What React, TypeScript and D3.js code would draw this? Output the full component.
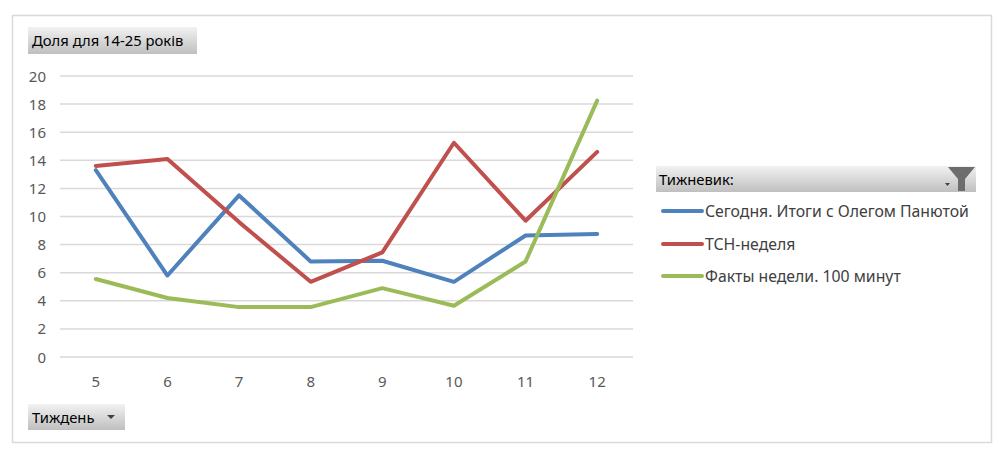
import React, { useEffect, useRef } from "react";
import * as d3 from "d3";

const weeks: string[] = ["5", "6", "7", "8", "9", "10", "11", "12"];
const seriesNames: string[] = [
  "Сегодня. Итоги с Олегом Панютой",
  "ТСН-неделя",
  "Факты недели. 100 минут",
];
const segodnya: number[] = [13.3, 5.8, 11.5, 6.8, 6.85, 5.35, 8.65, 8.75];
const tsn: number[] = [13.6, 14.1, 9.6, 5.35, 7.45, 15.25, 9.7, 14.6];
const fakty: number[] = [5.55, 4.2, 3.55, 3.55, 4.9, 3.65, 6.8, 18.25];
const colors: string[] = ["#4F81BD", "#C0504D", "#9BBB59"];
const yTicks: number[] = [0, 2, 4, 6, 8, 10, 12, 14, 16, 18, 20];

const FONT = "'Noto Sans', 'DejaVu Sans', sans-serif";

const App: React.FC = () => {
  const svgRef = useRef<SVGSVGElement | null>(null);

  useEffect(() => {
    const svg = d3.select(svgRef.current);
    svg.selectAll("*").remove();

    const width = 1003;
    const height = 456;
    const plot = { left: 60, right: 633, top: 76, bottom: 357 };

    const defs = svg.append("defs");
    const grad = defs
      .append("linearGradient")
      .attr("id", "btn")
      .attr("x1", 0)
      .attr("y1", 0)
      .attr("x2", 0)
      .attr("y2", 1);
    grad.append("stop").attr("offset", "0%").attr("stop-color", "#f2f2f2");
    grad.append("stop").attr("offset", "100%").attr("stop-color", "#bfbfbf");

    // outer frame
    svg
      .append("rect")
      .attr("x", 12.5)
      .attr("y", 15.5)
      .attr("width", 979)
      .attr("height", 427)
      .attr("fill", "#fff")
      .attr("stroke", "#d9d9d9")
      .attr("stroke-width", 1.5);

    const x = d3
      .scaleBand()
      .domain(weeks)
      .range([plot.left, plot.right]);
    const y = d3
      .scaleLinear()
      .domain([0, 20])
      .range([plot.bottom, plot.top]);

    // gridlines
    svg
      .append("g")
      .selectAll("line")
      .data(yTicks)
      .join("line")
      .attr("x1", plot.left)
      .attr("x2", plot.right)
      .attr("y1", (d) => y(d))
      .attr("y2", (d) => y(d))
      .attr("stroke", "#d9d9d9")
      .attr("stroke-width", 1.5);

    // y labels
    svg
      .append("g")
      .selectAll("text")
      .data(yTicks)
      .join("text")
      .attr("x", 46)
      .attr("y", (d) => y(d) + 5.5)
      .attr("text-anchor", "end")
      .attr("fill", "#595959")
      .style("font-family", FONT)
      .style("font-size", "15px")
      .text((d) => d);

    // x labels
    svg
      .append("g")
      .selectAll("text")
      .data(weeks)
      .join("text")
      .attr("x", (d) => x(d)! + x.bandwidth() / 2)
      .attr("y", 387)
      .attr("text-anchor", "middle")
      .attr("fill", "#595959")
      .style("font-family", FONT)
      .style("font-size", "15px")
      .text((d) => d);

    const line = d3
      .line<number>()
      .x((_, i) => x(weeks[i])! + x.bandwidth() / 2)
      .y((d) => y(d));

    [segodnya, tsn, fakty].forEach((vals, i) => {
      svg
        .append("path")
        .datum(vals)
        .attr("d", line)
        .attr("fill", "none")
        .attr("stroke", colors[i])
        .attr("stroke-width", 4)
        .attr("stroke-linejoin", "round")
        .attr("stroke-linecap", "round");
    });

    // field buttons
    const button = (bx: number, by: number, bw: number, bh: number, label: string, arrow: boolean) => {
      const g = svg.append("g");
      g.append("rect")
        .attr("x", bx)
        .attr("y", by)
        .attr("width", bw)
        .attr("height", bh)
        .attr("fill", "url(#btn)");
      g.append("text")
        .attr("x", bx + 4)
        .attr("y", by + bh / 2 + 5.5)
        .attr("fill", "#000")
        .style("font-family", FONT)
        .style("font-size", "14.8px")
        .text(label);
      if (arrow) {
        const ax = bx + bw - 14;
        const ay = by + bh / 2;
        g.append("path")
          .attr("d", `M${ax - 4},${ay - 2}L${ax + 4},${ay - 2}L${ax},${ay + 2}Z`)
          .attr("fill", "#404040");
      }
      return g;
    };

    button(28, 27, 169, 27, "Доля для 14-25 років", false);
    button(28, 404, 97, 26, "Тиждень", true);

    // legend
    const lg = svg.append("g");
    lg.append("rect")
      .attr("x", 656)
      .attr("y", 166)
      .attr("width", 320)
      .attr("height", 26)
      .attr("fill", "url(#btn)");
    lg.append("text")
      .attr("x", 659)
      .attr("y", 184.5)
      .attr("fill", "#000")
      .style("font-family", FONT)
      .style("font-size", "14.8px")
      .text("Тижневик:");
    // dropdown arrow + filter icon
    lg.append("path")
      .attr("d", "M945,183L950,183L947.5,186Z")
      .attr("fill", "#404040");
    lg.append("path")
      .attr("d", "M948,167L975,167L965,179L965,191L958,191L958,179Z")
      .attr("fill", "#6d6d6d");

    const legendY = [211, 244, 276];
    seriesNames.forEach((name, i) => {
      lg.append("line")
        .attr("x1", 663)
        .attr("x2", 702)
        .attr("y1", legendY[i])
        .attr("y2", legendY[i])
        .attr("stroke", colors[i])
        .attr("stroke-width", 4)
        .attr("stroke-linecap", "round");
      lg.append("text")
        .attr("x", 705)
        .attr("y", legendY[i] + 5.5)
        .attr("fill", "#404040")
        .style("font-family", FONT)
        .style("font-size", "15.8px")
        .text(name);
    });

    svg.attr("width", width).attr("height", height);
  }, []);

  return (
    <div style={{ position: "absolute", left: 0, top: 0 }}>
      <svg ref={svgRef} style={{ display: "block" }}></svg>
    </div>
  );
};

export default App;
